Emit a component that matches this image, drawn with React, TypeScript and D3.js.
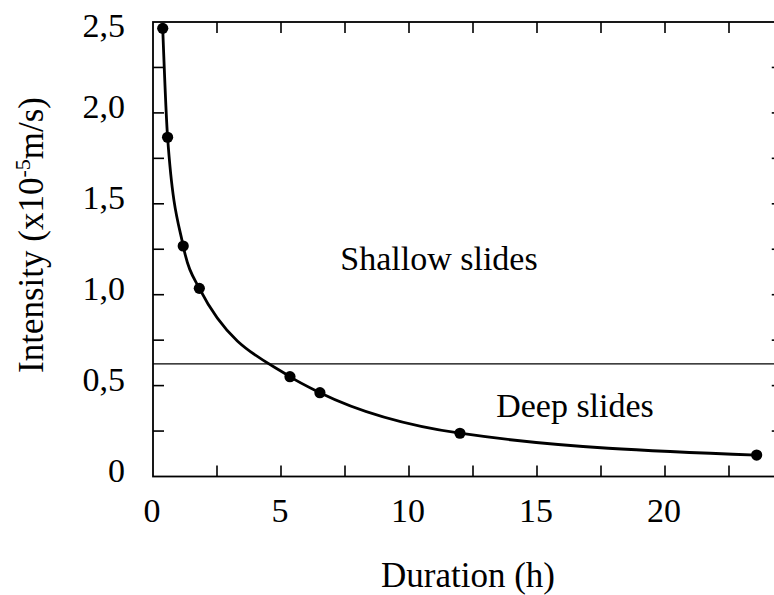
import React from "react";
import * as d3 from "d3";

const durations = [0.38, 0.57, 1.18, 1.81, 5.35, 6.52, 11.99, 23.58];
const intensities = [2.465, 1.866, 1.268, 1.035, 0.549, 0.461, 0.238, 0.118];
const threshold = 0.619;
const xTickLabels = [0, 5, 10, 15, 20];
const xMinorTicks = [2.5, 5, 7.5, 10, 12.5, 15, 17.5, 20, 22.5, 25];
const yTickLabels = [0, 0.5, 1.0, 1.5, 2.0, 2.5];
const yMinorTicks = [0.25, 0.5, 0.75, 1.0, 1.25, 1.5, 1.75, 2.0, 2.25];
const xMax = 24.6;
const yMax = 2.5;

const W = 774;
const H = 595;
const FONT = "'Liberation Serif', 'Times New Roman', serif";

export default function App() {
  const x = d3.scaleLinear().domain([0, 20]).range([153, 665]);
  const y = d3.scaleLinear().domain([0, yMax]).range([476.5, 22]);
  const pts: [number, number][] = durations.map((d, i) => [d, intensities[i]]);
  const line = d3
    .line<[number, number]>()
    .x((d) => x(d[0]))
    .y((d) => y(d[1]))
    .curve(d3.curveMonotoneX);
  const left = x(0);
  const right = x(xMax);
  const top = y(yMax);
  const bottom = y(0);
  const tl = 11;
  const fmt = (v: number) => (v === 0 ? "0" : v.toFixed(1).replace(".", ","));

  return (
    <svg
      width={W}
      height={H}
      style={{ position: "absolute", left: 0, top: 0, background: "#fff" }}
      fontFamily={FONT}
    >
      <rect x={0} y={0} width={W} height={H} fill="#fff" />
      {/* frame */}
      <rect
        x={left}
        y={top}
        width={right - left}
        height={bottom - top}
        fill="none"
        stroke="#000"
        strokeWidth={1.8}
      />
      {/* x ticks bottom & top */}
      {xMinorTicks.map((t) => (
        <g key={"xt" + t}>
          <line x1={x(t)} x2={x(t)} y1={bottom} y2={bottom - tl} stroke="#000" strokeWidth={1.6} />
          <line x1={x(t)} x2={x(t)} y1={top} y2={top + tl} stroke="#000" strokeWidth={1.6} />
        </g>
      ))}
      {/* y ticks left & right */}
      {yMinorTicks.map((t) => (
        <g key={"yt" + t}>
          <line x1={left} x2={left + tl} y1={y(t)} y2={y(t)} stroke="#000" strokeWidth={1.6} />
          <line x1={right} x2={right - tl} y1={y(t)} y2={y(t)} stroke="#000" strokeWidth={1.6} />
        </g>
      ))}
      {/* x tick labels */}
      {xTickLabels.map((t) => (
        <text key={"xl" + t} x={x(t) - 1} y={522} fontSize={34} textAnchor="middle">
          {t}
        </text>
      ))}
      {/* y tick labels */}
      {yTickLabels.map((t) => (
        <text
          key={"yl" + t}
          x={125}
          y={Math.max(y(t) + 5, top + 15)}
          fontSize={34}
          textAnchor="end"
        >
          {fmt(t)}
        </text>
      ))}
      {/* threshold */}
      <line x1={left} x2={right} y1={y(threshold)} y2={y(threshold)} stroke="#000" strokeWidth={1.2} />
      {/* curve */}
      <path d={line(pts) || ""} fill="none" stroke="#000" strokeWidth={2.8} />
      {pts.map((p, i) => (
        <circle key={"p" + i} cx={x(p[0])} cy={y(p[1])} r={5.6} fill="#000" />
      ))}
      {/* annotations */}
      <text x={439} y={270} fontSize={34} textAnchor="middle">
        Shallow slides
      </text>
      <text x={575} y={417} fontSize={34} textAnchor="middle">
        Deep slides
      </text>
      {/* axis titles */}
      <text x={468} y={587} fontSize={35} textAnchor="middle">
        Duration (h)
      </text>
      <text transform="translate(43,235) rotate(-90)" fontSize={35} textAnchor="middle">
        <tspan>Intensity (x10</tspan>
        <tspan fontSize={22} dy={-13}>-5</tspan>
        <tspan dy={13}>m/s)</tspan>
      </text>
    </svg>
  );
}
